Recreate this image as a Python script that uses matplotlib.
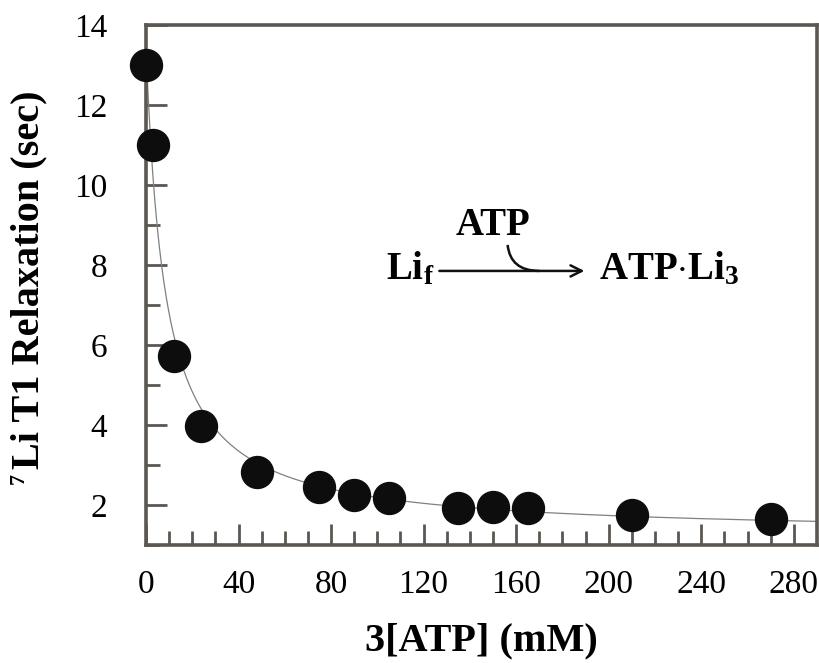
import numpy as np
import matplotlib
matplotlib.use("Agg")
import matplotlib.pyplot as plt
from matplotlib.path import Path
from matplotlib.patches import PathPatch

plt.rcParams['font.family'] = ['Liberation Serif', 'DejaVu Serif']
plt.rcParams['mathtext.fontset'] = 'custom'
plt.rcParams['mathtext.rm'] = 'Liberation Serif'
plt.rcParams['mathtext.bf'] = 'Liberation Serif:bold'
plt.rcParams['mathtext.it'] = 'Liberation Serif:italic'

# data
atp3 = [0, 3, 12, 24, 48, 75, 90, 105, 135, 150, 165, 210, 270]
t1 = [13.0, 11.0, 5.72, 3.98, 2.83, 2.46, 2.24, 2.18, 1.93, 1.96, 1.92, 1.75, 1.64]

x_ticks = [0, 40, 80, 120, 160, 200, 240, 280]
y_ticks = [2, 4, 6, 8, 10, 12, 14]

x = np.array(atp3, float)
y = np.array(t1, float)

# fit of the relaxation model 1/T1 = R0 + Rm * x / (K + x)
best = None
R = 1.0 / y
w = y ** 2
for K in np.linspace(0.5, 200, 4000):
    A = np.column_stack([np.ones_like(x), x / (K + x)])
    coef, *_ = np.linalg.lstsq(A * w[:, None], R * w, rcond=None)
    pred = 1.0 / (A @ coef)
    err = np.sum((pred - y) ** 2)
    if best is None or err < best[0]:
        best = (err, K, coef)
_, K, (R0, Rm) = best
xf = np.linspace(0, 290, 600)
yf = 1.0 / (R0 + Rm * xf / (K + xf))

fig = plt.figure(figsize=(8.2, 6.63), dpi=100)
ax = fig.add_axes([0.178, 0.178, 0.8183, 0.7845])

spine_c = '#5b5752'
ax.plot(xf, yf, color='#808080', lw=0.9, zorder=2)
ax.plot(x, y, 'o', color='#0d0d0d', ms=23, mec='#0d0d0d', zorder=5, clip_on=False)

ax.set_xlim(0, 290)
ax.set_ylim(1, 14)
ax.set_xticks(x_ticks)
ax.set_yticks(y_ticks)
ax.set_xticks(np.arange(10, 290, 10), minor=True)
ax.set_yticks(np.arange(1, 14, 1), minor=True)
ax.set_xticklabels([str(v) for v in x_ticks])
ax.set_yticklabels([str(v) for v in y_ticks])

for s in ax.spines.values():
    s.set_color(spine_c)
    s.set_linewidth(2.6)

ax.tick_params(which='major', direction='in', length=15, width=2, color=spine_c,
               labelsize=24, top=False, right=False)
ax.tick_params(which='minor', direction='in', length=10, width=2, color=spine_c,
               top=False, right=False)
ax.tick_params(axis='y', which='major', pad=28)
ax.tick_params(axis='x', which='major', pad=18)

ax.set_xlabel('3[ATP] (mM)', fontsize=29, fontweight='bold', labelpad=16)
ax.set_ylabel('Li T1 Relaxation (sec)', fontsize=29, fontweight='bold')
ax.yaxis.set_label_coords(-0.1475, 0.51)
fig.text(19 / 820, 1 - 478 / 663, '7', fontsize=16, fontweight='bold', rotation=90,
         ha='center', va='center')

# reaction annotation
fs = 28
ax.text(103.8, 7.63, r'$\mathbf{Li}_{\mathbf{f}}$', fontsize=fs, va='baseline', ha='left')
ax.text(150.2, 8.75, 'ATP', fontsize=fs, fontweight='bold', va='baseline', ha='center')
ax.text(195.8, 7.63, r'$\mathbf{ATP{\cdot}Li}_{\mathbf{3}}$', fontsize=fs, va='baseline', ha='left')
ax.annotate('', xy=(189.5, 7.85), xytext=(126.8, 7.85),
            arrowprops=dict(arrowstyle='->,head_length=0.8,head_width=0.4', lw=1.8, color='#111111',
                            shrinkA=0, shrinkB=0))
verts = [(156.3, 8.5), (157.5, 7.85), (170.0, 7.85)]
ax.add_patch(PathPatch(Path(verts, [Path.MOVETO, Path.CURVE3, Path.CURVE3]),
                       fill=False, lw=1.8, color='#111111'))

fig.savefig('out.png', dpi=100)
